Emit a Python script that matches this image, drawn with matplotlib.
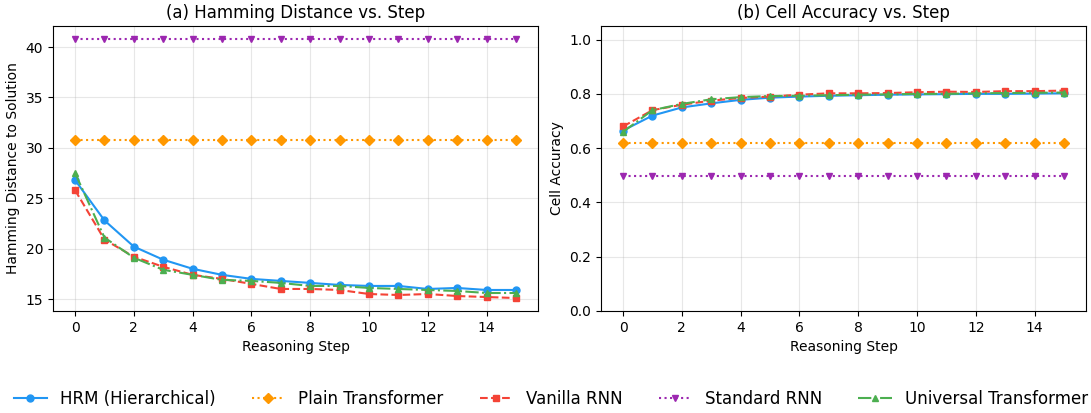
import numpy as np
import matplotlib.pyplot as plt

steps = np.arange(16)

# (a) hamming distance
hrm_ham = [26.8, 22.8, 20.2, 18.9, 18.0, 17.4, 17.0, 16.8, 16.6, 16.4, 16.3, 16.3, 16.0, 16.1, 15.9, 15.9]
plain_ham = [30.8] * 16
vanilla_ham = [25.8, 20.9, 19.2, 18.2, 17.4, 17.0, 16.5, 16.0, 16.0, 15.9, 15.5, 15.4, 15.5, 15.3, 15.2, 15.1]
standard_ham = [40.8] * 16
universal_ham = [27.5, 21.1, 19.1, 17.9, 17.4, 16.9, 16.8, 16.6, 16.3, 16.3, 16.1, 16.0, 15.9, 15.8, 15.6, 15.6]

# (b) cell accuracy
hrm_acc = [0.665, 0.72, 0.75, 0.765, 0.778, 0.786, 0.79, 0.793, 0.795, 0.797, 0.798, 0.799, 0.80, 0.80, 0.801, 0.802]
plain_acc = [0.62] * 16
vanilla_acc = [0.68, 0.74, 0.76, 0.775, 0.785, 0.79, 0.797, 0.802, 0.802, 0.803, 0.806, 0.808, 0.807, 0.81, 0.81, 0.812]
standard_acc = [0.497] * 16
universal_acc = [0.66, 0.74, 0.763, 0.78, 0.788, 0.792, 0.793, 0.795, 0.797, 0.798, 0.80, 0.80, 0.802, 0.803, 0.804, 0.805]

names = ['HRM (Hierarchical)', 'Plain Transformer', 'Vanilla RNN', 'Standard RNN', 'Universal Transformer']
colors = ['#2196F3', '#FF9800', '#F44336', '#9C27B0', '#4CAF50']
markers = ['o', 'D', 's', 'v', '^']
styles = ['-', ':', '--', ':', '-.']

ham = [hrm_ham, plain_ham, vanilla_ham, standard_ham, universal_ham]
acc = [hrm_acc, plain_acc, vanilla_acc, standard_acc, universal_acc]

fig, (ax1, ax2) = plt.subplots(1, 2, figsize=(10.91, 4.13), dpi=100)

for i in range(5):
    ax1.plot(steps, ham[i], linestyle=styles[i], marker=markers[i], color=colors[i],
             label=names[i], linewidth=1.5, markersize=5)
    ax2.plot(steps, acc[i], linestyle=styles[i], marker=markers[i], color=colors[i],
             label=names[i], linewidth=1.5, markersize=5)

ax1.set_title('(a) Hamming Distance vs. Step')
ax1.set_xlabel('Reasoning Step')
ax1.set_ylabel('Hamming Distance to Solution')
ax1.grid(True, alpha=0.3)

ax2.set_title('(b) Cell Accuracy vs. Step')
ax2.set_xlabel('Reasoning Step')
ax2.set_ylabel('Cell Accuracy')
ax2.set_ylim(0, 1.05)
ax2.grid(True, alpha=0.3)

handles, labels = ax1.get_legend_handles_labels()
fig.legend(handles, labels, loc='lower center', ncol=5, frameon=False,
           fontsize=12, columnspacing=2.15, bbox_to_anchor=(0.505, -0.025))

plt.subplots_adjust(left=0.0486, right=0.9954, top=0.937, bottom=0.247, wspace=0.13)
fig.savefig('out.png')
